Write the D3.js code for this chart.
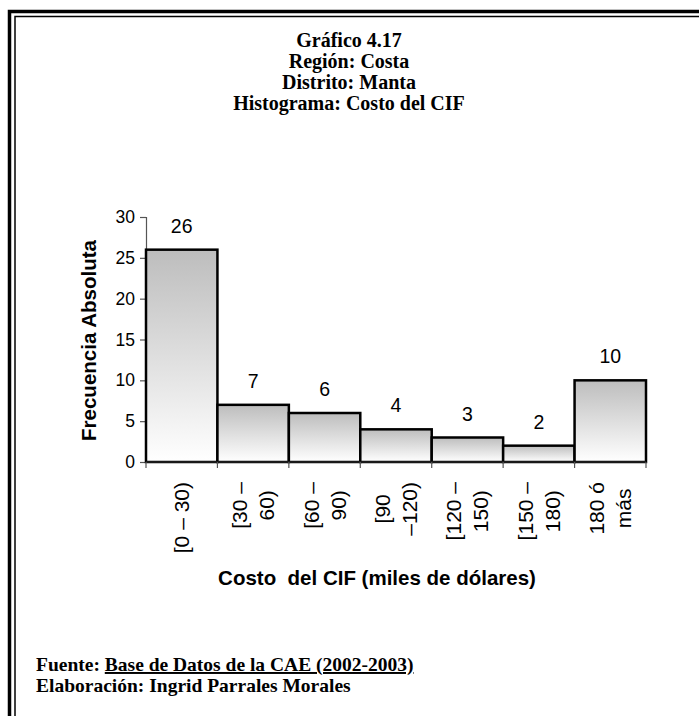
<!DOCTYPE html>
<html lang="es">
<head>
<meta charset="UTF-8" />
<title>Gráfico 4.17 - Histograma: Costo del CIF</title>
<script src="https://cdn.jsdelivr.net/npm/d3@7"></script>
<style>
  body { margin: 0; background: #fff; }
  svg { display: block; }
  .serif { font-family: "Liberation Serif", "Times New Roman", serif; font-weight: bold; }
  .sans { font-family: "Liberation Sans", Arial, sans-serif; }
</style>
</head>
<body>
<svg id="chart"></svg>
<script>
  // data
  const categories = ["[0 – 30)", "[30 – 60)", "[60 – 90)", "[90 –120)", "[120 – 150)", "[150 – 180)", "180 ó más"];
  const labelLines = [["[0 – 30)"], ["[30 –", "60)"], ["[60 –", "90)"], ["[90", "–120)"], ["[120 –", "150)"], ["[150 –", "180)"], ["180 ó", "más"]];
  const counts = [26, 7, 6, 4, 3, 2, 10];
  const yTicks = [0, 5, 10, 15, 20, 25, 30];
  const titleLines = ["Gráfico 4.17", "Región: Costa", "Distrito: Manta", "Histograma: Costo del CIF"];

  const W = 699, H = 716;
  const svg = d3.select('#chart').attr('width', W).attr('height', H);

  // double frame, runs off the right and bottom edge like the scan
  svg.append('rect').attr('x', 9.5).attr('y', 11.5).attr('width', 720).attr('height', 740)
     .attr('fill', 'none').attr('stroke', '#000').attr('stroke-width', 3.5);
  svg.append('rect').attr('x', 15).attr('y', 16.5).attr('width', 720).attr('height', 740)
     .attr('fill', 'none').attr('stroke', '#000').attr('stroke-width', 1.5);

  // title
  svg.append('g').selectAll('text').data(titleLines).join('text')
     .attr('class', 'serif')
     .attr('x', 349).attr('y', (d, i) => 47 + i * 21)
     .attr('text-anchor', 'middle').attr('font-size', 20)
     .text(d => d);

  const plotL = 146, plotR = 646, plotT = 217, plotB = 462;

  const x = d3.scaleBand().domain(categories).range([plotL, plotR]).padding(0);
  const y = d3.scaleLinear().domain([0, 30]).range([plotB, plotT]);

  const defs = svg.append('defs');
  const grad = defs.append('linearGradient').attr('id', 'barFill')
     .attr('x1', 0).attr('y1', 0).attr('x2', 0).attr('y2', 1);
  grad.append('stop').attr('offset', '0%').attr('stop-color', '#bdbdbd');
  grad.append('stop').attr('offset', '100%').attr('stop-color', '#ffffff');

  // y axis
  const yAxis = svg.append('g')
     .attr('transform', `translate(${plotL},0)`)
     .call(d3.axisLeft(y).tickValues(yTicks).tickSize(6).tickPadding(5));
  yAxis.select('.domain').attr('stroke', '#555').attr('stroke-width', 1.2);
  yAxis.selectAll('.tick line').attr('stroke', '#555').attr('stroke-width', 1.2);
  yAxis.selectAll('.tick text').attr('class', 'sans').attr('font-size', 17.5).attr('fill', '#000');

  // bars
  svg.append('g').selectAll('rect').data(counts).join('rect')
     .attr('x', (d, i) => x(categories[i]))
     .attr('y', d => y(d))
     .attr('width', x.bandwidth())
     .attr('height', d => y(0) - y(d))
     .attr('fill', 'url(#barFill)')
     .attr('stroke', '#000').attr('stroke-width', 2.5);

  // x axis with ticks at the bin edges
  const edges = categories.map(c => x(c)).concat([plotR]);
  svg.append('line').attr('x1', plotL).attr('x2', plotR).attr('y1', plotB).attr('y2', plotB)
     .attr('stroke', '#222').attr('stroke-width', 1.5);
  svg.append('g').selectAll('line').data(edges).join('line')
     .attr('x1', d => d).attr('x2', d => d)
     .attr('y1', plotB).attr('y2', plotB + 6)
     .attr('stroke', '#555').attr('stroke-width', 1.2);

  // value labels
  svg.append('g').selectAll('text').data(counts).join('text')
     .attr('class', 'sans')
     .attr('x', (d, i) => x(categories[i]) + x.bandwidth() / 2)
     .attr('y', d => y(d) - 17)
     .attr('text-anchor', 'middle').attr('font-size', 19.5)
     .text(d => d);

  // rotated category labels
  const lineGap = 27, labelTop = 482;
  categories.forEach((c, i) => {
    const g = svg.append('g')
       .attr('transform', `translate(${x(c) + x.bandwidth() / 2},${labelTop})`);
    const lines = labelLines[i];
    const texts = lines.map(t => g.append('text')
       .attr('class', 'sans').attr('font-size', 21)
       .attr('text-anchor', 'middle').attr('dominant-baseline', 'central')
       .text(t));
    const len = d3.max(texts, t => t.node().getComputedTextLength());
    texts.forEach((t, j) => {
      const dx = (j - (lines.length - 1) / 2) * lineGap;
      t.attr('transform', `translate(${dx},${len / 2}) rotate(-90)`);
    });
  });

  // axis titles
  svg.append('text').attr('class', 'sans')
     .attr('transform', `translate(96,${(plotT + plotB) / 2 + 1}) rotate(-90)`)
     .attr('text-anchor', 'middle').attr('font-size', 20.5).attr('font-weight', 'bold')
     .text('Frecuencia Absoluta');
  svg.append('text').attr('class', 'sans')
     .attr('x', 377).attr('y', 585)
     .attr('text-anchor', 'middle').attr('font-size', 20.5).attr('font-weight', 'bold')
     .style('white-space', 'pre')
     .text('Costo  del CIF (miles de dólares)');

  // footer
  const src = svg.append('text').attr('class', 'serif').attr('x', 36).attr('y', 671).attr('font-size', 19.5);
  src.append('tspan').text('Fuente: ');
  src.append('tspan').attr('text-decoration', 'underline').text('Base de Datos de la CAE (2002-2003)');
  svg.append('text').attr('class', 'serif').attr('x', 36).attr('y', 692).attr('font-size', 19.5)
     .text('Elaboración: Ingrid Parrales Morales');
</script>
</body>
</html>
